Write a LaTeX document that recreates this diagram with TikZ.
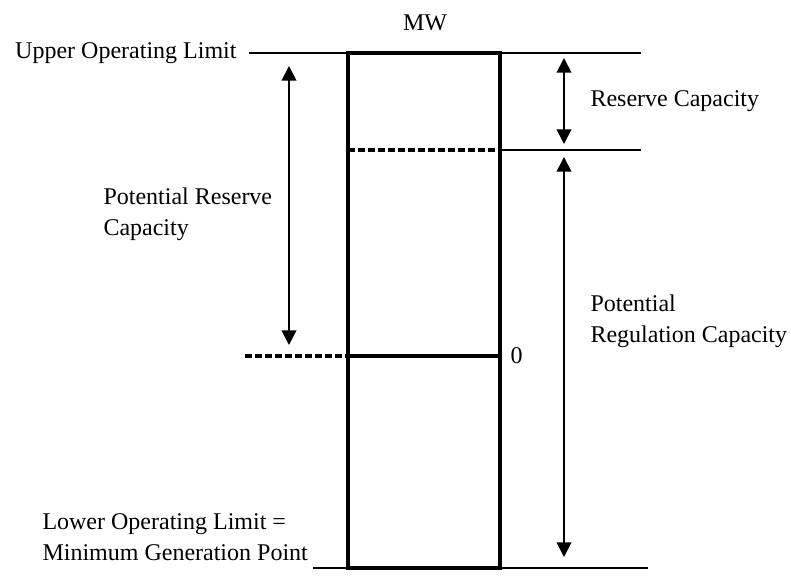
\documentclass[tikz,border=0pt]{standalone}
\usepackage{fontspec}
\setmainfont{Liberation Serif}
\usetikzlibrary{arrows.meta}

\tikzset{every picture/.style={line width=0.75pt}}
\tikzset{
  limitline/.style={line width=1.5pt},
  boxline/.style={line width=2.6pt},
  dashline/.style={line width=2.6pt, dash pattern=on 5pt off 2.5pt},
  span/.style={line width=1.4pt, {Triangle[length=11pt,width=11pt]}-{Triangle[length=11pt,width=11pt]}},
  txt/.style={inner sep=0.75pt, font=\fontsize{18}{23.5}\selectfont, align=left}
}

\begin{document}
\begin{tikzpicture}[x=0.75pt,y=0.75pt,yscale=-1,xscale=1]
\path (0,0) rectangle (791,579); %set diagram size

%Points
\coordinate (upL) at (249,53);
\coordinate (upR) at (641,53);
\coordinate (boxTL) at (348,53);
\coordinate (boxTR) at (500,53);
\coordinate (boxBL) at (348,568);
\coordinate (boxBR) at (500,568);
\coordinate (rcL) at (348,150);
\coordinate (rcM) at (500,150);
\coordinate (rcR) at (641,150);
\coordinate (zeroL) at (245,356);
\coordinate (zeroM) at (348,356);
\coordinate (zeroR) at (500,356);
\coordinate (lowL) at (313,568);
\coordinate (lowR) at (648,568);

%Shape: Limit lines
\draw [limitline] (upL) -- (boxTL) ;
\draw [limitline] (boxTR) -- (upR) ;
\draw [limitline] (rcM) -- (rcR) ;
\draw [limitline] (lowL) -- (lowR) ;
%Shape: Unit box
\draw [boxline] (boxTL) rectangle (boxBR) ;
\draw [boxline] (zeroM) -- (zeroR) ;
%Shape: Dashed lines
\draw [dashline] (rcL) -- (rcM) ;
\draw [dashline] (zeroL) -- (zeroM) ;

%Shape: Arrows
\coordinate (rsvA) at (564,58);
\coordinate (rsvB) at (564,144);
\coordinate (regA) at (564,157);
\coordinate (regB) at (564,557);
\coordinate (potA) at (289,66);
\coordinate (potB) at (289,345);
\draw [span] (rsvA) -- (rsvB) ;
\draw [span] (regA) -- (regB) ;
\draw [span] (potA) -- (potB) ;

% Text Node
\draw (425,23) node (mw) [txt] {MW};
% Text Node
\draw (238,53) node (upper) [anchor=east] [txt] {Upper Operating Limit};
% Text Node
\draw (589,101) node (reserve) [anchor=west] [txt] {Reserve Capacity};
% Text Node
\draw (102,214) node (potres) [anchor=west] [txt] {Potential Reserve\\Capacity};
% Text Node
\draw (589,321) node (potreg) [anchor=west] [txt] {Potential\\Regulation Capacity};
% Text Node
\draw (509,356) node (zero) [anchor=west] [txt] {0};
% Text Node
\draw (41,537) node (lower) [anchor=west] [txt] {Lower Operating Limit =\\Minimum Generation Point};

\end{tikzpicture}
\end{document}
